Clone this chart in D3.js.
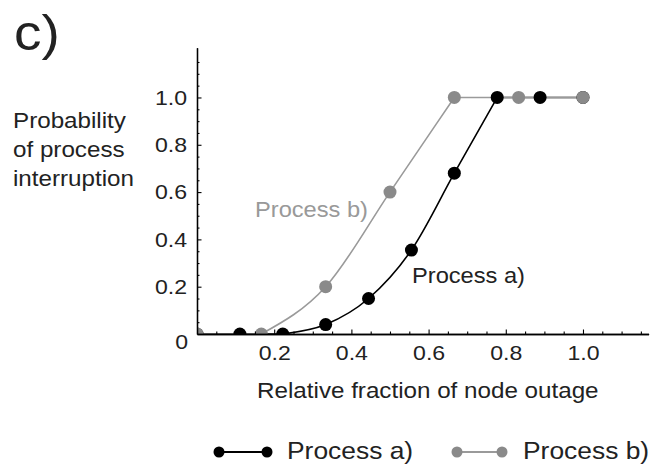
<!DOCTYPE html>
<html><head><meta charset="utf-8">
<script src="https://cdn.jsdelivr.net/npm/d3@7"></script>
<style>
html,body{margin:0;padding:0;background:#fff;}
svg{display:block;}
text{font-family:"Liberation Sans",Arial,sans-serif;fill:#222;}
</style></head>
<body>
<svg id="chart" width="652" height="467"></svg>
<script>
// ---- data ----
const seriesNames = ["Process a)", "Process b)"];
const xA = [0, 1/9, 2/9, 3/9, 4/9, 5/9, 6/9, 7/9, 8/9, 1];
const yA = [0, 0, 0, 0.04, 0.15, 0.355, 0.68, 1, 1, 1];
const xB = [0, 1/6, 2/6, 3/6, 4/6, 5/6, 1];
const yB = [0, 0, 0.2, 0.6, 1, 1, 1];
const xTicks = [0.2, 0.4, 0.6, 0.8, 1.0];
const yTicks = [0.2, 0.4, 0.6, 0.8, 1.0];
const xLabel = "Relative fraction of node outage";
const yLabelLines = ["Probability", "of process", "interruption"];
const panelLabel = "c)";

const SX = 1.1;
const svg = d3.select("#chart");
const x = d3.scaleLinear().domain([0, 1.17]).range([197, 648.6]);
const y = d3.scaleLinear().domain([0, 1.21]).range([334, 47.8]);

function txt(px, py, s, size, anchor, color) {
  return svg.append("text")
    .attr("transform", `translate(${px},${py}) scale(${SX},1)`)
    .attr("text-anchor", anchor || "start")
    .style("font-size", size + "px")
    .style("fill", color || "#222")
    .text(s);
}

const BLACK = "#000";
const GRAY = "#8a8a8a";
const GRAYLINE = "#9a9a9a";

// clip to the positive quadrant
svg.append("clipPath").attr("id", "clip").append("rect")
  .attr("x", x(0)).attr("y", y(1.21))
  .attr("width", x(1.17) - x(0)).attr("height", y(0) - y(1.21));

const plot = svg.append("g").attr("clip-path", "url(#clip)");

function drawLine(xs, ys, color) {
  const pts = xs.map((v, i) => [v, ys[i]]);
  // rising part: from last zero to first one, smooth; flat parts linear
  let i0 = 0; for (let i = 0; i < pts.length; i++) if (pts[i][1] === 0) i0 = i;
  let i1 = pts.findIndex(p => p[1] >= 1);
  const lineLin = d3.line().x(d => x(d[0])).y(d => y(d[1]));
  const lineSm = d3.line().x(d => x(d[0])).y(d => y(d[1])).curve(d3.curveMonotoneX);
  const style = p => p.attr("fill", "none").attr("stroke", color).attr("stroke-width", 1.6);
  style(plot.append("path").attr("d", lineLin(pts.slice(0, i0 + 1))));
  style(plot.append("path").attr("d", lineSm(pts.slice(i0, i1 + 1))));
  style(plot.append("path").attr("d", lineLin(pts.slice(i1))));
}
function drawPts(xs, ys, color, r) {
  plot.selectAll(null).data(xs.map((v, i) => [v, ys[i]])).enter().append("circle")
    .attr("cx", d => x(d[0])).attr("cy", d => y(d[1])).attr("r", r).attr("fill", color);
}
drawLine(xA, yA, BLACK);
drawLine(xB, yB, GRAYLINE);
drawPts(xA, yA, BLACK, 6.5);
drawPts(xB, yB, GRAY, 6.5);

// axes
const minor = d3.range(1, 24).map(i => i * 0.05).filter(v => Math.abs(v * 5 - Math.round(v * 5)) > 1e-6);
const xMinor = minor.filter(v => v <= 1.17);
const yMinor = minor.filter(v => v <= 1.21);

const gx = svg.append("g").attr("transform", `translate(0,${y(0)})`);
gx.call(d3.axisBottom(x).tickValues(xMinor).tickSizeInner(-2.5).tickSizeOuter(0).tickFormat(""));
const gx2 = svg.append("g").attr("transform", `translate(0,${y(0)})`);
gx2.call(d3.axisBottom(x).tickValues(xTicks).tickSizeInner(-4.5).tickSizeOuter(0).tickPadding(11).tickFormat(d3.format(".1f")));
const gy = svg.append("g").attr("transform", `translate(${x(0)},0)`);
gy.call(d3.axisLeft(y).tickValues(yMinor).tickSizeInner(-2.5).tickSizeOuter(0).tickFormat(""));
const gy2 = svg.append("g").attr("transform", `translate(${x(0)},0)`);
gy2.call(d3.axisLeft(y).tickValues(yTicks).tickSizeInner(-4.5).tickSizeOuter(0).tickPadding(9).tickFormat(d3.format(".1f")));
[gx, gx2, gy, gy2].forEach(g => {
  g.selectAll("path.domain").attr("stroke", "#000").attr("stroke-width", 1.3);
  g.selectAll("line").attr("stroke", "#000").attr("stroke-width", 1.1);
  g.selectAll("text").style("font-size", "21px").style("fill", "#222")
    .attr("font-family", null).attr("transform", `scale(${SX},1)`);
});
// origin label
txt(x(0) - 9, y(0) + 15, "0", 21, "end");

// axis titles
txt((x(0) + x(1.17)) / 2 + 5, 398, xLabel, 22, "middle");
yLabelLines.forEach((s, i) => txt(13, 128 + i * 29, s, 22, "start"));
txt(14, 50, panelLabel, 50, "start");

// inline labels
txt(255, 217, seriesNames[1], 21.5, "start", "#999");
txt(412, 283, seriesNames[0], 21.5, "start");

// legend
const legY = 452;
const leg = [
  {name: seriesNames[0], c: BLACK, lc: BLACK, x0: 219, x1: 267, tx: 287},
  {name: seriesNames[1], c: GRAY, lc: GRAYLINE, x0: 457, x1: 502, tx: 523}
];
leg.forEach(L => {
  svg.append("line").attr("x1", L.x0).attr("x2", L.x1).attr("y1", legY).attr("y2", legY)
    .attr("stroke", L.lc).attr("stroke-width", 1.8);
  [L.x0, L.x1].forEach(cx => svg.append("circle").attr("cx", cx).attr("cy", legY).attr("r", 5.5).attr("fill", L.c));
  txt(L.tx, 459, L.name, 24, "start");
});
</script>
</body></html>
